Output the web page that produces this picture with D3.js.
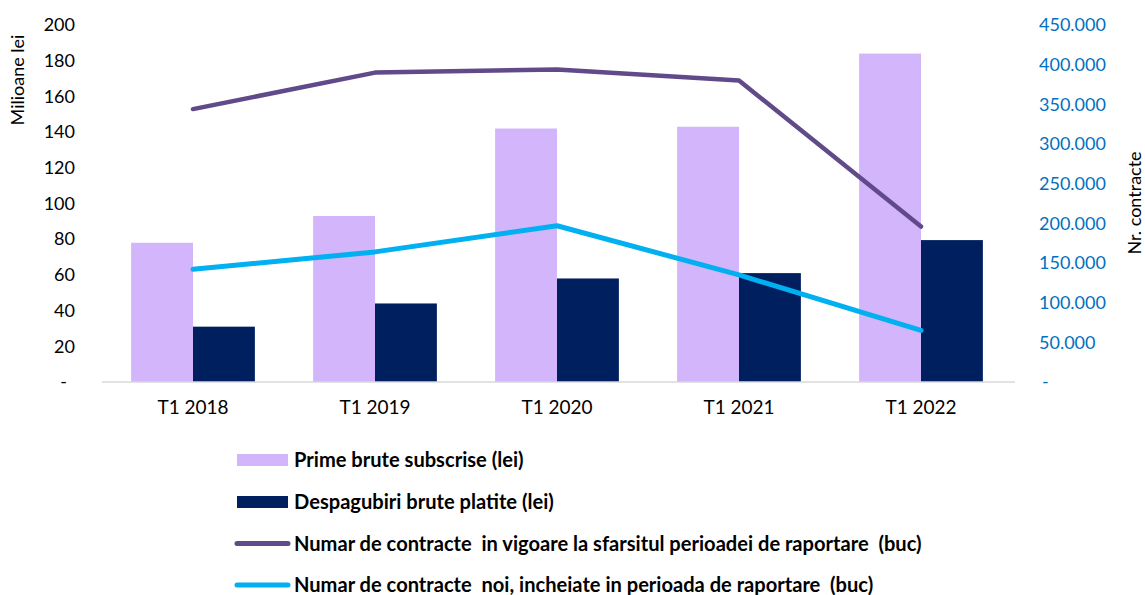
<!DOCTYPE html>
<html>
<head>
<meta charset="utf-8">
<script src="https://cdn.jsdelivr.net/npm/d3@7"></script>
<style>
  html, body { margin: 0; padding: 0; background: #fff; }
  svg { display: block; }
  text { font-family: Lato, "Open Sans", sans-serif; }
</style>
</head>
<body>
<svg id="chart" width="1145" height="595"></svg>
<script>
const categories = ["T1 2018", "T1 2019", "T1 2020", "T1 2021", "T1 2022"];
const primeBrute = [78, 93, 142, 143, 184];          // milioane lei
const despagubiri = [31, 44, 58, 61, 79.5];          // milioane lei
const contracteVigoare = [344000, 390000, 394000, 380000, 196000];
const contracteNoi = [142000, 164000, 197000, 135000, 65000];
const leftTicks = [0, 20, 40, 60, 80, 100, 120, 140, 160, 180, 200];
const rightTicks = [0, 50000, 100000, 150000, 200000, 250000, 300000, 350000, 400000, 450000];
const seriesNames = [
  "Prime brute subscrise (lei)",
  "Despagubiri brute platite (lei)",
  "Numar de contracte  in vigoare la sfarsitul perioadei de raportare  (buc)",
  "Numar de contracte  noi, incheiate in perioada de raportare  (buc)"
];
const colors = ["#D3B5FC", "#001F5F", "#604A89", "#00B0F0"];

const svg = d3.select("#chart");
const x0 = 102, x1 = 1012, yTop = 25, yBot = 382;

const x = d3.scaleBand().domain(categories).range([x0, x1]).paddingInner(0.32).paddingOuter(0.16);
const xs = d3.scaleBand().domain([0, 1]).range([0, x.bandwidth()]).padding(0);
const yL = d3.scaleLinear().domain([0, 200]).range([yBot, yTop]);
const yR = d3.scaleLinear().domain([0, 450000]).range([yBot, yTop]);

const fmtR = v => v === 0 ? "-" : d3.format(",")(v).replace(/,/g, ".");

// bars
const barSeries = [primeBrute, despagubiri];
barSeries.forEach((vals, si) => {
  svg.append("g").selectAll("rect").data(vals).join("rect")
    .attr("x", (d, i) => x(categories[i]) + xs(si))
    .attr("width", xs.bandwidth())
    .attr("y", d => yL(d))
    .attr("height", d => yL(0) - yL(d))
    .attr("fill", colors[si]);
});

// baseline
svg.append("line").attr("x1", x0).attr("x2", x1 + 3).attr("y1", yBot).attr("y2", yBot)
  .attr("stroke", "#D9D9D9").attr("stroke-width", 1.5);

// lines
const line = d3.line().x((d, i) => x(categories[i]) + x.bandwidth() / 2).y(d => yR(d));
[[contracteVigoare, colors[2], 4.5], [contracteNoi, colors[3], 5]].forEach(([vals, c, w]) => {
  svg.append("path").datum(vals).attr("d", line)
    .attr("fill", "none").attr("stroke", c).attr("stroke-width", w)
    .attr("stroke-linecap", "round").attr("stroke-linejoin", "round");
});

// left axis
const gL = svg.append("g").attr("transform", `translate(${x0},0)`)
  .call(d3.axisLeft(yL).tickValues(leftTicks).tickSize(0).tickPadding(27)
    .tickFormat(v => v === 0 ? "-" : v));
gL.select(".domain").remove();
gL.selectAll("text").attr("font-size", 18).attr("fill", "#000").style("font-family", "Lato");
gL.selectAll(".tick").filter(d => d === 0).select("text").attr("dx", -8);

// right axis
const gR = svg.append("g").attr("transform", `translate(${x1},0)`)
  .call(d3.axisRight(yR).tickValues(rightTicks).tickSize(0).tickPadding(27).tickFormat(fmtR));
gR.select(".domain").remove();
gR.selectAll("text").attr("font-size", 18).attr("fill", "#0070C0").style("font-family", "Lato");
gR.selectAll(".tick").filter(d => d === 0).select("text").attr("dx", 3);

// x axis labels
const gX = svg.append("g").attr("transform", `translate(0,${yBot})`)
  .call(d3.axisBottom(x).tickSize(0).tickPadding(19));
gX.select(".domain").remove();
gX.selectAll("text").attr("font-size", 19).attr("fill", "#000").style("font-family", "Lato");

// axis titles
svg.append("text").attr("transform", "translate(24,80) rotate(-90)")
  .attr("text-anchor", "middle").attr("font-size", 18).attr("fill", "#000").text("Milioane lei");
svg.append("text").attr("transform", "translate(1141,203) rotate(-90)")
  .attr("text-anchor", "middle").attr("font-size", 18).attr("fill", "#000").text("Nr. contracte");

// legend
const legY = [460, 502, 543.5, 585];
const leg = svg.append("g");
seriesNames.forEach((name, i) => {
  const cy = legY[i];
  if (i < 2) {
    leg.append("rect").attr("x", 237).attr("y", cy - 6).attr("width", 51).attr("height", 12).attr("fill", colors[i]);
  } else {
    leg.append("line").attr("x1", 237).attr("x2", 288).attr("y1", cy).attr("y2", cy)
      .attr("stroke", colors[i]).attr("stroke-width", 5).attr("stroke-linecap", "round");
  }
  const t = leg.append("text").attr("x", 294).attr("y", cy).attr("dy", "0.35em")
    .attr("font-size", 17).attr("font-weight", "bold").attr("fill", "#000")
    .style("white-space", "pre").text(name);
  if (i === 2) {
    const w = t.node().getComputedTextLength();
    const fs = 17 * 628 / w;
    leg.selectAll("text").attr("font-size", fs);
  }
});
// apply final font size to all legend texts
const fsFinal = +leg.selectAll("text").filter((d, i) => i === 2).attr("font-size");
leg.selectAll("text").attr("font-size", fsFinal);
</script>
</body>
</html>
